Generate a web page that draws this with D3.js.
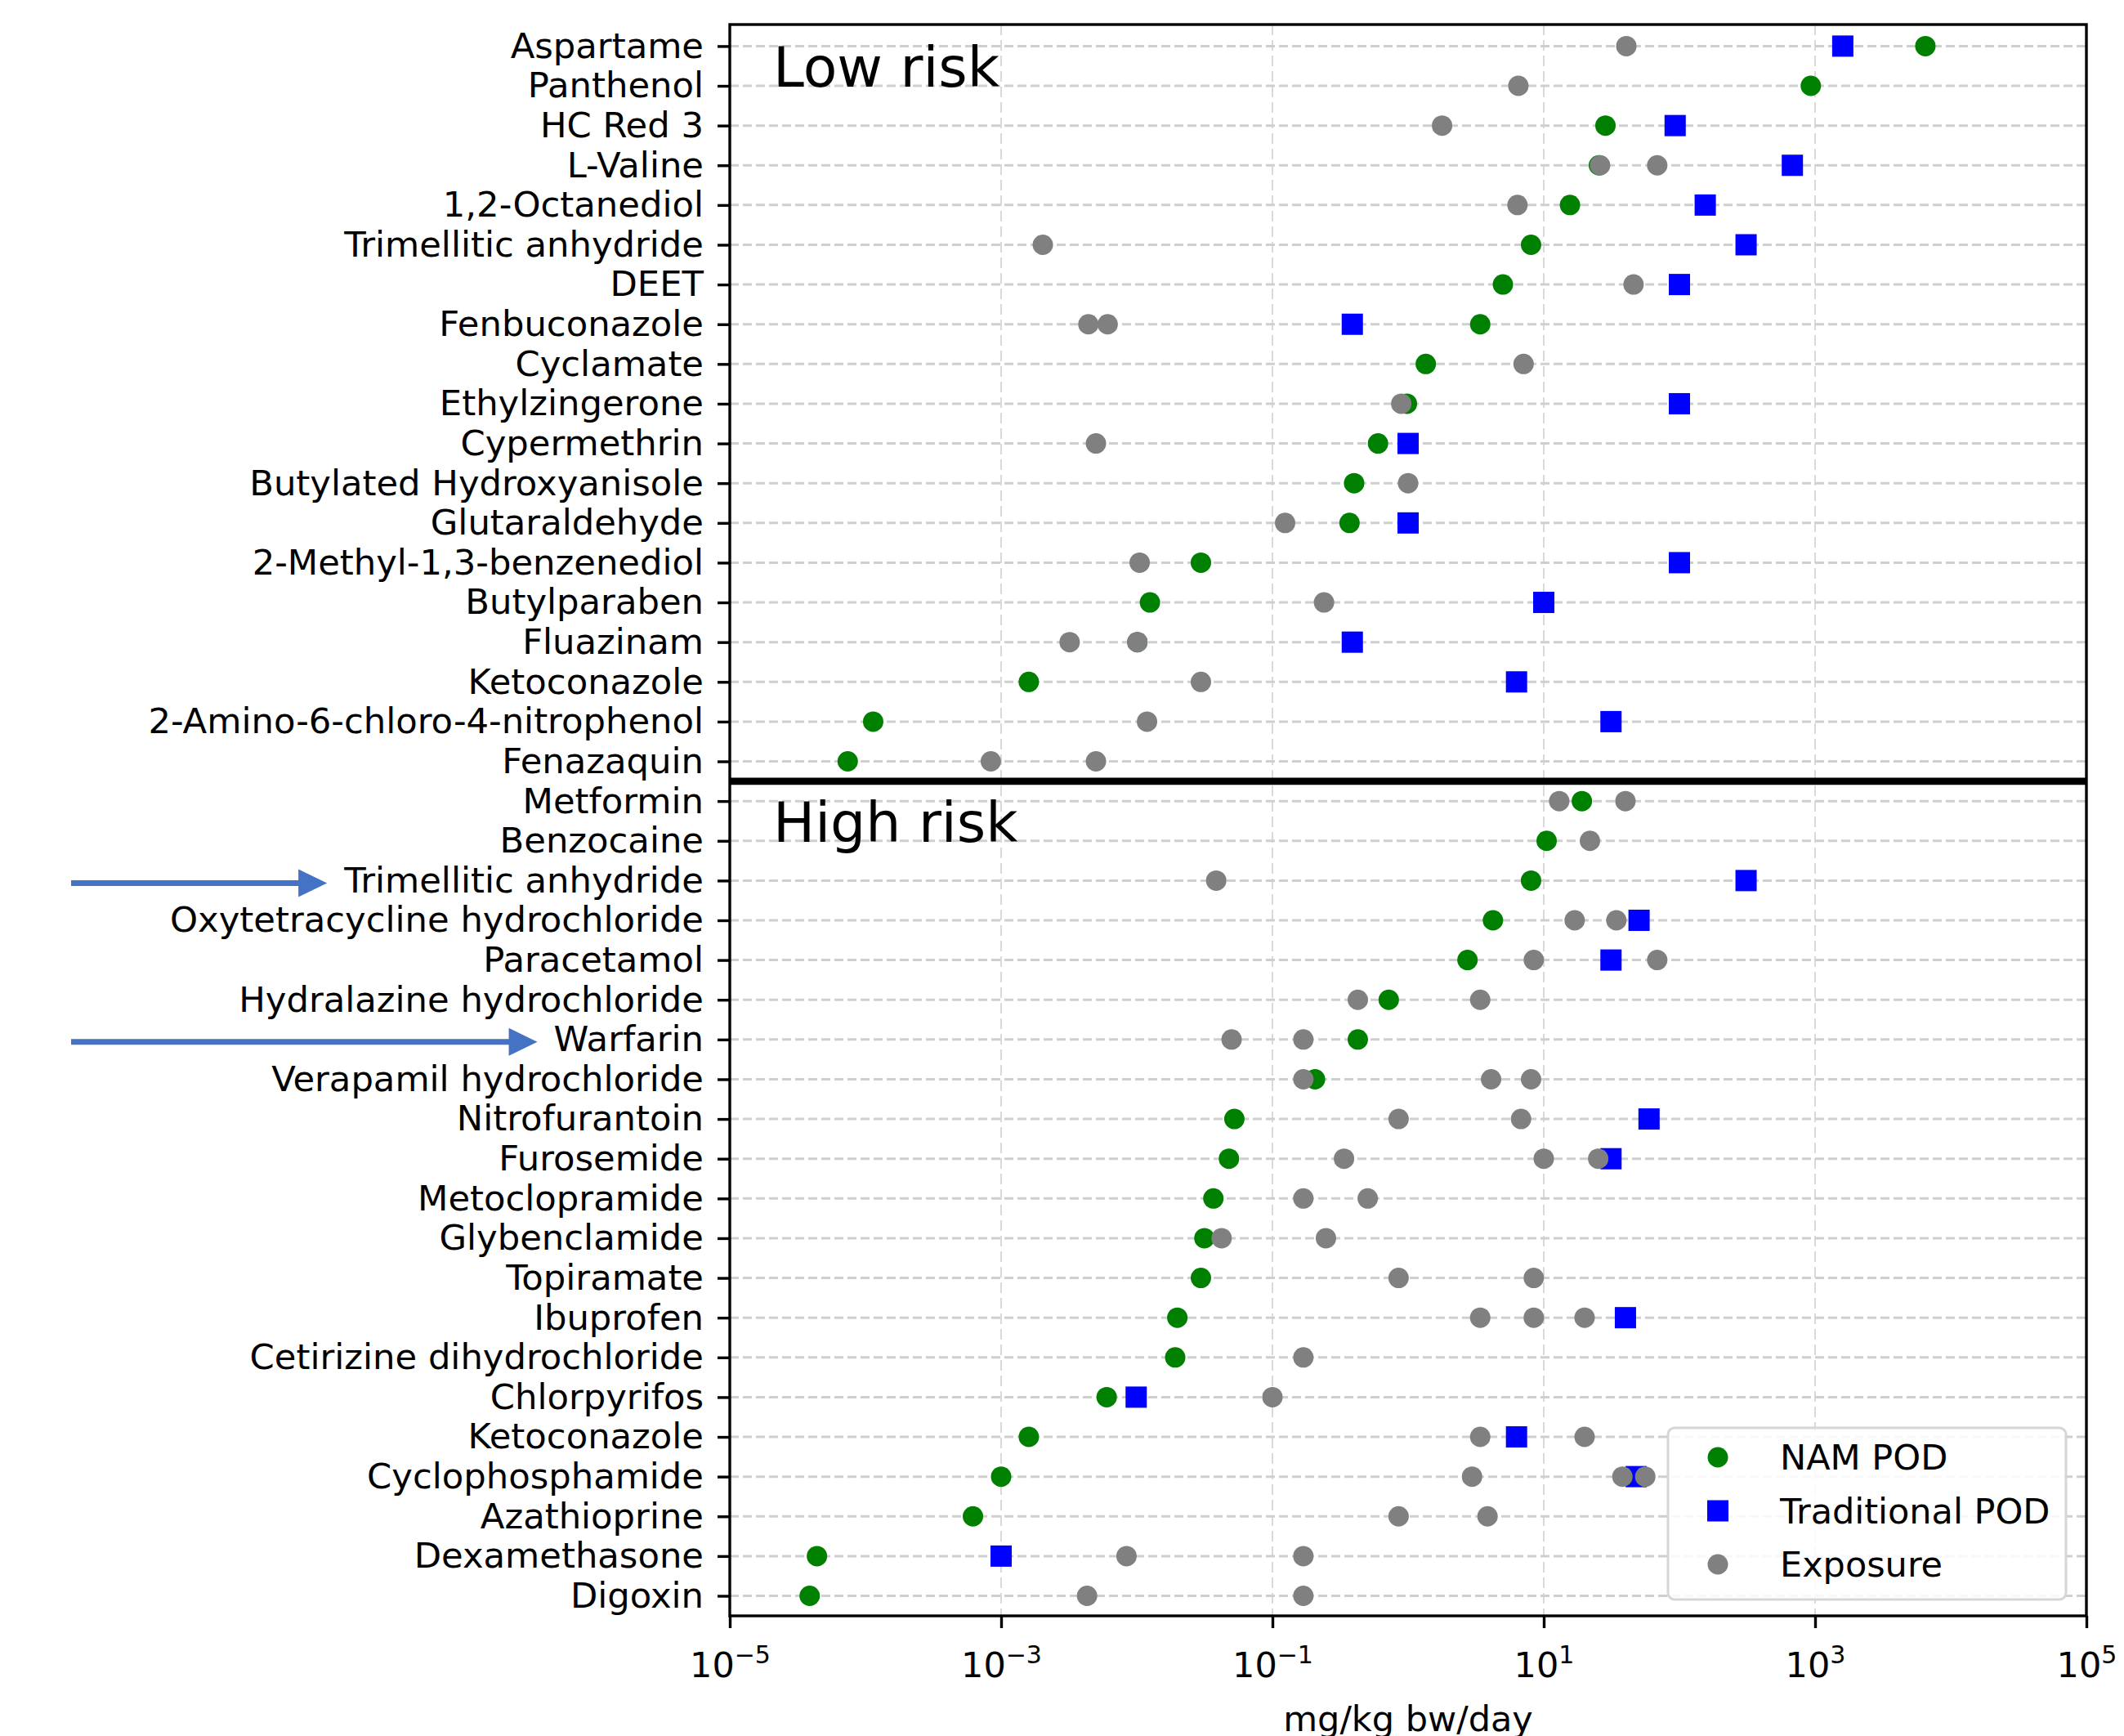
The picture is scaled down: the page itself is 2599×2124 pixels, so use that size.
<html>
<head>
<title>NAM POD vs traditional POD vs exposure</title>
<style>
body { margin: 0; background: #fff; }
svg { font-family: "DejaVu Sans", sans-serif; }
</style>
</head>
<body>
<svg id="chart" width="2599" height="2124"></svg>
<script src="https://cdnjs.cloudflare.com/ajax/libs/d3/7.8.5/d3.min.js"></script>
<script>
// rows top to bottom; first 19 low risk, rest high risk
var chemicals = [
  'Aspartame', 'Panthenol', 'HC Red 3', 'L-Valine', '1,2-Octanediol',
  'Trimellitic anhydride', 'DEET', 'Fenbuconazole', 'Cyclamate', 'Ethylzingerone',
  'Cypermethrin', 'Butylated Hydroxyanisole', 'Glutaraldehyde', '2-Methyl-1,3-benzenediol',
  'Butylparaben', 'Fluazinam', 'Ketoconazole', '2-Amino-6-chloro-4-nitrophenol', 'Fenazaquin',
  'Metformin', 'Benzocaine', 'Trimellitic anhydride', 'Oxytetracycline hydrochloride',
  'Paracetamol', 'Hydralazine hydrochloride', 'Warfarin', 'Verapamil hydrochloride',
  'Nitrofurantoin', 'Furosemide', 'Metoclopramide', 'Glybenclamide', 'Topiramate',
  'Ibuprofen', 'Cetirizine dihydrochloride', 'Chlorpyrifos', 'Ketoconazole',
  'Cyclophosphamide', 'Azathioprine', 'Dexamethasone', 'Digoxin'
];

var namPod = [
  6500, 930, 28.5, 25.5, 15.6, 8.06, 5.0, 3.4, 1.35, 0.98,
  0.6, 0.40, 0.37, 0.0297, 0.0125, 0.0101, 0.0016, 0.000114, 0.000074,
  19.1, 10.5, 8.06, 4.22, 2.74, 0.72, 0.426, 0.206, 0.0524, 0.0478,
  0.0367, 0.0315, 0.0297, 0.0199, 0.0192, 0.006, 0.0016, 0.001, 0.00062,
  0.0000439, 0.0000388
];

var tradPod = [
  1600, null, 93, 680, 155, 310, 100, 0.388, null, 100,
  1.0, null, 1.0, 100, 10, 0.388, 6.3, 31.3, null,
  null, null, 310, 50.4, 31.3, null, null, null, 59.7, 31.3,
  null, null, null, 40, null, 0.0099, 6.3, 48, null,
  0.001, null
];

var exposure = [
  [40.6], [6.5], [1.78], [26, 68.6], [6.4], [0.00203], [45.9], [0.0044, 0.0061], [7.1], [0.89],
  [0.005], [1.0], [0.124], [0.0105], [0.24], [0.0032, 0.0101], [0.0297], [0.0119], [0.00084, 0.005],
  [13.0, 40.0], [21.9], [0.0385], [16.9, 34.3], [8.44, 68.6], [0.426, 3.4], [0.05, 0.169],
  [0.169, 4.09, 8.06], [0.851, 6.8], [0.337, 10, 25.2], [0.169, 0.504], [0.0422, 0.248],
  [0.851, 8.44], [3.4, 8.44, 20], [0.169], [0.1], [3.4, 20], [2.96, 38, 56], [0.851, 3.85],
  [0.0084, 0.169], [0.0043, 0.169]
];

var xTicks = [1e-5, 1e-3, 1e-1, 1e1, 1e3, 1e5];
var xTickExp = ['\u22125', '\u22123', '\u22121', '1', '3', '5'];
var groupLabels = ['Low risk', 'High risk'];
var groupStart = [0, 19];
var arrowRows = [21, 25];
var legendLabels = ['NAM POD', 'Traditional POD', 'Exposure'];

var colNam = '#008000', colTrad = '#0000ff', colExp = '#808080';
var plotL = 893, plotR = 2553, plotT = 30, plotB = 1977;

var svg = d3.select('#chart');

var x = d3.scaleLog().domain([1e-5, 1e5]).range([plotL, plotR]);
var y = d3.scalePoint().domain(d3.range(chemicals.length)).range([56.4, 1952.5]);
var step = y.step();

// grid
svg.append('g').selectAll('line')
  .data(xTicks)
  .enter().append('line')
  .attr('x1', function(d) { return x(d); })
  .attr('x2', function(d) { return x(d); })
  .attr('y1', plotT).attr('y2', plotB)
  .attr('stroke', '#d9d9d9').attr('stroke-width', 2)
  .attr('stroke-dasharray', '13,6');

svg.append('g').selectAll('line')
  .data(d3.range(chemicals.length))
  .enter().append('line')
  .attr('x1', plotL).attr('x2', plotR)
  .attr('y1', function(d) { return y(d); })
  .attr('y2', function(d) { return y(d); })
  .attr('stroke', '#cfcfcf').attr('stroke-width', 3)
  .attr('stroke-dasharray', '11,5');

var r = 12.5, sq = 26;

// NAM POD
svg.append('g').selectAll('circle')
  .data(namPod)
  .enter().append('circle')
  .attr('cx', function(d) { return x(d); })
  .attr('cy', function(d, i) { return y(i); })
  .attr('r', r)
  .attr('fill', colNam);

// traditional POD
var tradData = tradPod.map(function(v, i) { return {v: v, i: i}; })
  .filter(function(d) { return d.v != null; });
svg.append('g').selectAll('rect')
  .data(tradData)
  .enter().append('rect')
  .attr('x', function(d) { return x(d.v) - sq / 2; })
  .attr('y', function(d) { return y(d.i) - sq / 2; })
  .attr('width', sq).attr('height', sq)
  .attr('fill', colTrad);

// exposure
var expData = [];
exposure.forEach(function(list, i) {
  list.forEach(function(v) { expData.push({v: v, i: i}); });
});
svg.append('g').selectAll('circle')
  .data(expData)
  .enter().append('circle')
  .attr('cx', function(d) { return x(d.v); })
  .attr('cy', function(d) { return y(d.i); })
  .attr('r', r)
  .attr('fill', colExp);

// separator between groups
var sepY = y(groupStart[1]) - step / 2;
svg.append('line')
  .attr('x1', plotL).attr('x2', plotR)
  .attr('y1', sepY).attr('y2', sepY)
  .attr('stroke', '#000').attr('stroke-width', 8.6);

// group labels
svg.append('g').selectAll('text')
  .data(groupLabels)
  .enter().append('text')
  .attr('x', plotL + 53)
  .attr('y', function(d, i) { return y(groupStart[i]) - step / 2 + 74; })
  .attr('font-size', 68)
  .attr('fill', '#000')
  .text(function(d) { return d; });

// frame
svg.append('rect')
  .attr('x', plotL).attr('y', plotT)
  .attr('width', plotR - plotL).attr('height', plotB - plotT)
  .attr('fill', 'none').attr('stroke', '#000').attr('stroke-width', 3.4);

// y axis
var yAxis = d3.axisLeft(y)
  .tickFormat(function(i) { return chemicals[i]; })
  .tickSize(15).tickPadding(17);
var gy = svg.append('g').attr('transform', 'translate(' + plotL + ',0)').call(yAxis);
gy.select('.domain').remove();
gy.selectAll('.tick line').attr('stroke', '#000').attr('stroke-width', 3.4);
gy.selectAll('.tick text')
  .attr('font-family', '"DejaVu Sans", sans-serif')
  .attr('font-size', 43.3).attr('fill', '#000');

// x axis
var xAxis = d3.axisBottom(x).tickValues(xTicks).tickFormat('').tickSize(15);
var gx = svg.append('g').attr('transform', 'translate(0,' + plotB + ')').call(xAxis);
gx.select('.domain').remove();
gx.selectAll('.tick line').attr('stroke', '#000').attr('stroke-width', 3.4);
gx.selectAll('.tick text').remove();
gx.selectAll('.tick').each(function(d, i) {
  var t = d3.select(this).append('text')
    .attr('y', 75)
    .attr('text-anchor', 'middle')
    .attr('font-family', '"DejaVu Sans", sans-serif')
    .attr('font-size', 43).attr('fill', '#000');
  t.append('tspan').text('10');
  t.append('tspan').attr('font-size', 30).attr('dy', -17).text(xTickExp[i]);
});

svg.append('text')
  .attr('x', (plotL + plotR) / 2).attr('y', 2118)
  .attr('text-anchor', 'middle')
  .attr('font-size', 43).attr('fill', '#000')
  .text('mg/kg bw/day');

// arrows pointing at labels
var labelNodes = gy.selectAll('.tick text').nodes();
arrowRows.forEach(function(row) {
  var bb = labelNodes[row].getBBox();
  var tip = plotL + bb.x - 20;
  var ay = y(row) + 3;
  svg.append('line')
    .attr('x1', 87).attr('x2', tip - 30)
    .attr('y1', ay).attr('y2', ay)
    .attr('stroke', '#4472C4').attr('stroke-width', 7);
  svg.append('path')
    .attr('d', 'M' + (tip - 35) + ',' + (ay - 17) + 'L' + tip + ',' + ay + 'L' + (tip - 35) + ',' + (ay + 17) + 'Z')
    .attr('fill', '#4472C4');
});

// legend
var lg = svg.append('g').attr('transform', 'translate(2041,1747)');
lg.append('rect')
  .attr('width', 487).attr('height', 210).attr('rx', 8)
  .attr('fill', '#fff').attr('fill-opacity', 0.85)
  .attr('stroke', '#d6d6d6').attr('stroke-width', 3);
legendLabels.forEach(function(lab, i) {
  var cy = 36 + i * 65.5;
  if (i == 1) {
    lg.append('rect').attr('x', 61 - sq / 2).attr('y', cy - sq / 2)
      .attr('width', sq).attr('height', sq).attr('fill', colTrad);
  } else {
    lg.append('circle').attr('cx', 61).attr('cy', cy).attr('r', r)
      .attr('fill', i == 0 ? colNam : colExp);
  }
  lg.append('text').attr('x', 137).attr('y', cy + 15)
    .attr('font-size', 43).attr('fill', '#000').text(lab);
});
</script>
</body>
</html>
